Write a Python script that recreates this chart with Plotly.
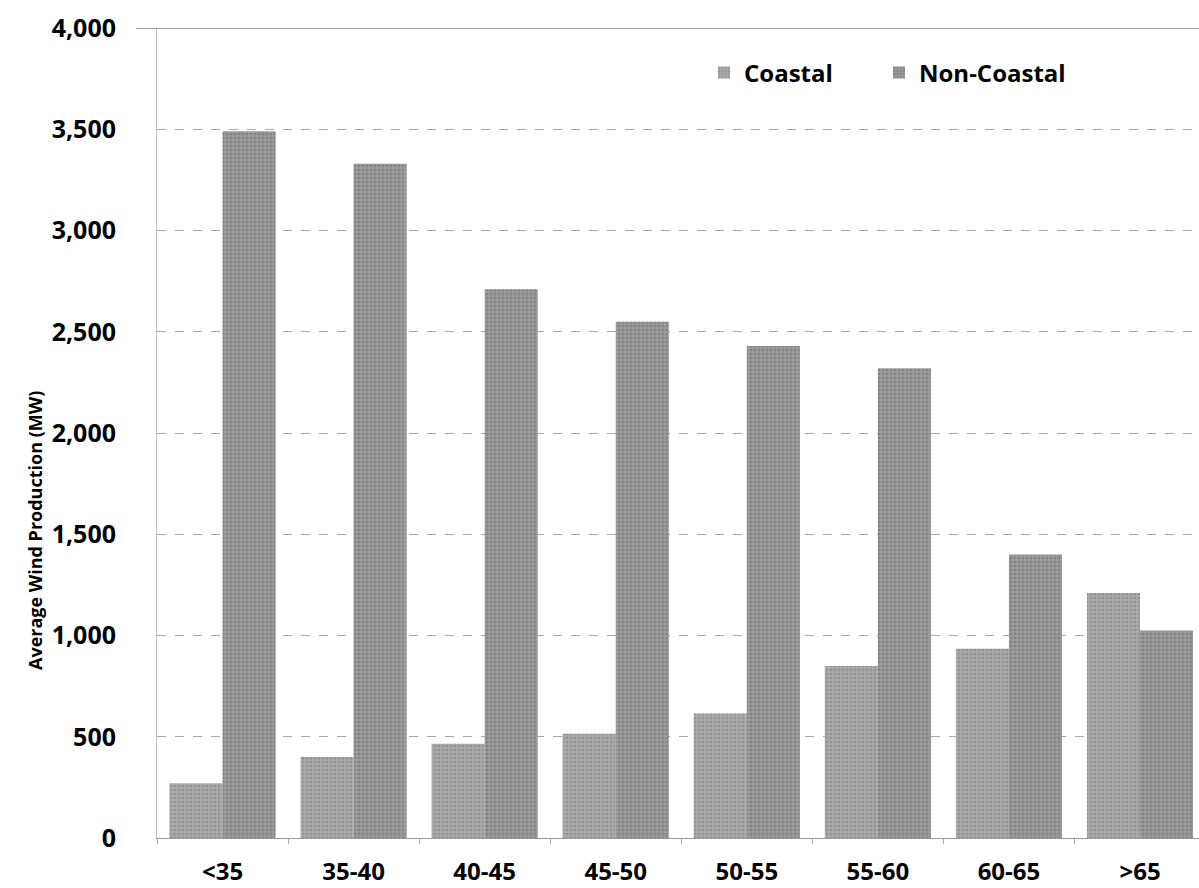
import plotly.graph_objects as go

categories = ["<35", "35-40", "40-45", "45-50", "50-55", "55-60", "60-65", ">65"]
coastal = [270, 400, 465, 515, 615, 850, 935, 1210]
non_coastal = [3490, 3330, 2710, 2550, 2430, 2320, 1400, 1025]
y_ticks = [0, 500, 1000, 1500, 2000, 2500, 3000, 3500, 4000]
y_tick_text = ["0", "500", "1,000", "1,500", "2,000", "2,500", "3,000", "3,500", "4,000"]

FONT = "Open Sans"
L, R, T, B = 157, 0, 28, 50
W, H = 1199, 888
PW = W - L - R
PH = H - T - B

fig = go.Figure()
fig.add_trace(go.Bar(
    x=categories, y=coastal, name="Coastal", legend="legend",
    marker=dict(color="#a2a2a2", line=dict(width=0),
                pattern=dict(shape=".", fgcolor="#7a7a7a", bgcolor="#a9a9a9", size=4, solidity=0.3)),
))
fig.add_trace(go.Bar(
    x=categories, y=non_coastal, name="Non-Coastal", legend="legend2",
    marker=dict(color="#8e8e8e", line=dict(width=0),
                pattern=dict(shape=".", fgcolor="#6a6a6a", bgcolor="#9a9a9a", size=4, solidity=0.35)),
))

legend_common = dict(
    orientation="h", y=1 - (73 - T) / PH, xanchor="left", yanchor="middle",
    font=dict(family=FONT, size=24, color="black", weight="bold"),
    bgcolor="rgba(0,0,0,0)",
)

fig.update_layout(
    width=W, height=H,
    margin=dict(l=L, r=R, t=T, b=B, autoexpand=False),
    paper_bgcolor="white", plot_bgcolor="white",
    barmode="group", bargap=0.19, bargroupgap=0,
    font=dict(family=FONT, color="black"),
    legend=dict(x=(704 - L) / PW, **legend_common),
    legend2=dict(x=(879 - L) / PW, **legend_common),
    showlegend=True,
)
fig.update_xaxes(
    type="category", range=[-0.5, 7.45], automargin=False,
    showgrid=False, showline=True, linecolor="#9a9a9a", linewidth=1,
    ticks="outside", tickson="boundaries", ticklen=5, tickcolor="#aaaaaa",
    tickfont=dict(family=FONT, size=24, color="black", weight="bold"),
    ticklabelstandoff=12,
)
fig.update_yaxes(
    range=[0, 4000], tickvals=y_ticks, ticktext=y_tick_text, automargin=False,
    showgrid=True, gridcolor="#a8a8a8", gridwidth=1, griddash="dash",
    showline=True, linecolor="#c0c0c0", linewidth=1,
    zeroline=False, ticks="",
    tickfont=dict(family=FONT, size=25, color="black", weight="bold"),
    ticklabelstandoff=35,
)
fig.add_annotation(
    text="Average Wind Production (MW)", textangle=-90,
    xref="paper", yref="paper", x=(35 - L) / PW, y=1 - (531 - T) / PH,
    xanchor="center", yanchor="middle", showarrow=False,
    font=dict(family=FONT, size=18, color="black", weight="bold"),
)
# solid top border line at 4000
fig.add_shape(type="line", xref="paper", yref="y", x0=-0.02, x1=1, y0=4000, y1=4000,
              line=dict(color="#7a7a7a", width=1.5))

fig.write_html("out.html", config={"displayModeBar": False},
               post_script="document.body.style.margin='0';document.body.style.overflow='hidden';")
